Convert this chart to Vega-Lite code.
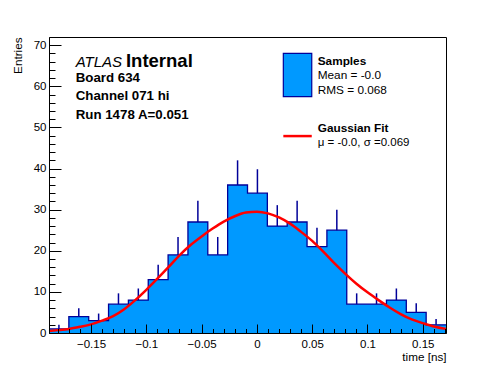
{
  "$schema": "https://vega.github.io/schema/vega-lite/v6.json",
  "width": 397,
  "height": 296,
  "autosize": "none",
  "padding": {"left": 49, "top": 37, "right": 50, "bottom": 39},
  "background": "white",
  "config": {"font": "Liberation Sans", "view": {"stroke": "black", "strokeWidth": 1}},
  "datasets": {
    "hist": [
      {"x": -0.188, "n": 1}, {"x": -0.17005, "n": 4}, {"x": -0.1521, "n": 3}, {"x": -0.13415, "n": 7},
      {"x": -0.1162, "n": 8}, {"x": -0.09825, "n": 13}, {"x": -0.0803, "n": 19}, {"x": -0.06235, "n": 27},
      {"x": -0.0444, "n": 19}, {"x": -0.02645, "n": 36}, {"x": -0.0085, "n": 34}, {"x": 0.00945, "n": 26},
      {"x": 0.0274, "n": 27}, {"x": 0.04535, "n": 21}, {"x": 0.0633, "n": 25}, {"x": 0.08125, "n": 7},
      {"x": 0.0992, "n": 7}, {"x": 0.11715, "n": 8}, {"x": 0.1351, "n": 5}, {"x": 0.15305, "n": 2},
      {"x": 0.171, "n": 2}
    ],
    "bins": [
      {"xc": -0.179025, "n": 1, "hi": 2}, {"xc": -0.161075, "n": 4, "hi": 6},
      {"xc": -0.143125, "n": 3, "hi": 4.732}, {"xc": -0.125175, "n": 7, "hi": 9.646},
      {"xc": -0.107225, "n": 8, "hi": 10.828}, {"xc": -0.089275, "n": 13, "hi": 16.606},
      {"xc": -0.071325, "n": 19, "hi": 23.359}, {"xc": -0.053375, "n": 27, "hi": 32.196},
      {"xc": -0.035425, "n": 19, "hi": 23.359}, {"xc": -0.017475, "n": 36, "hi": 42},
      {"xc": 0.000475, "n": 34, "hi": 39.831}, {"xc": 0.018425, "n": 26, "hi": 31.099},
      {"xc": 0.036375, "n": 27, "hi": 32.196}, {"xc": 0.054325, "n": 21, "hi": 25.583},
      {"xc": 0.072275, "n": 25, "hi": 30}, {"xc": 0.090225, "n": 7, "hi": 9.646},
      {"xc": 0.108175, "n": 7, "hi": 9.646}, {"xc": 0.126125, "n": 8, "hi": 10.828},
      {"xc": 0.144075, "n": 5, "hi": 7.236}, {"xc": 0.162025, "n": 2, "hi": 3.414}
    ],
    "curve": [
      {"x": -0.188, "v": 0.5}, {"x": -0.18, "v": 0.7}, {"x": -0.17, "v": 1.0}, {"x": -0.16, "v": 1.5},
      {"x": -0.15, "v": 2.1}, {"x": -0.14, "v": 3.0}, {"x": -0.13, "v": 4.1}, {"x": -0.12, "v": 5.8},
      {"x": -0.11, "v": 8.0}, {"x": -0.1, "v": 10.5}, {"x": -0.09, "v": 13.2}, {"x": -0.08, "v": 16.0},
      {"x": -0.07, "v": 18.9}, {"x": -0.06, "v": 21.4}, {"x": -0.05, "v": 23.5}, {"x": -0.04, "v": 25.4},
      {"x": -0.03, "v": 27.1}, {"x": -0.02, "v": 28.4}, {"x": -0.01, "v": 29.3}, {"x": 0, "v": 29.5},
      {"x": 0.01, "v": 29.1}, {"x": 0.02, "v": 28.1}, {"x": 0.03, "v": 26.6}, {"x": 0.04, "v": 24.6},
      {"x": 0.05, "v": 22.4}, {"x": 0.06, "v": 19.8}, {"x": 0.07, "v": 17.0}, {"x": 0.08, "v": 14.4},
      {"x": 0.09, "v": 12.0}, {"x": 0.1, "v": 9.9}, {"x": 0.11, "v": 8.0}, {"x": 0.12, "v": 6.2},
      {"x": 0.13, "v": 4.6}, {"x": 0.14, "v": 3.3}, {"x": 0.15, "v": 2.4}, {"x": 0.16, "v": 1.6},
      {"x": 0.171, "v": 1.0}
    ]
  },
  "layer": [
    {
      "layer": [
        {
          "data": {"name": "hist"},
          "mark": {"type": "area", "interpolate": "step-after", "color": "#0099ff"},
          "encoding": {
            "x": {
              "field": "x", "type": "quantitative",
              "scale": {"domain": [-0.188, 0.171], "nice": false, "zero": false},
              "axis": {
                "orient": "bottom", "values": [-0.15, -0.1, -0.05, 0, 0.05, 0.1, 0.15], "format": "~g",
                "tickSize": -9, "tickColor": "black", "labelPadding": 14, "labelFontSize": 11.5,
                "labelColor": "black", "labelFlush": false, "domainColor": "black", "grid": false, "zindex": 1,
                "title": "time [ns]", "titleAnchor": "end", "titleFontWeight": "normal", "titleFontSize": 11.7,
                "titleColor": "black", "titlePadding": 2
              }
            },
            "y": {
              "field": "n", "type": "quantitative",
              "scale": {"domain": [0, 72], "nice": false},
              "axis": {
                "orient": "left", "values": [0, 10, 20, 30, 40, 50, 60, 70],
                "tickSize": -12, "tickColor": "black", "labelPadding": 15, "labelFontSize": 11.5,
                "labelColor": "black", "labelFlush": false, "domainColor": "black", "grid": false, "zindex": 1,
                "title": "Entries", "titleAnchor": "end", "titleFontWeight": "normal", "titleFontSize": 11.7,
                "titleColor": "black", "titlePadding": 10
              }
            }
          }
        },
        {
          "data": {"name": "hist"},
          "mark": {"type": "line", "interpolate": "step-after", "color": "#000099", "strokeWidth": 1.3},
          "encoding": {
            "x": {"field": "x", "type": "quantitative"},
            "y": {"field": "n", "type": "quantitative"}
          }
        },
        {
          "data": {"name": "bins"},
          "mark": {"type": "rule", "color": "#000099", "strokeWidth": 1.5},
          "encoding": {
            "x": {"field": "xc", "type": "quantitative"},
            "y": {"field": "n", "type": "quantitative"},
            "y2": {"field": "hi"}
          }
        },
        {
          "data": {"values": [{}]},
          "mark": {"type": "text", "fontStyle": "italic", "fontSize": 15, "align": "left", "baseline": "alphabetic"},
          "encoding": {
            "x": {"datum": -0.1639, "type": "quantitative"},
            "y": {"datum": 64.8, "type": "quantitative"},
            "text": {"value": "ATLAS"}
          }
        },
        {
          "data": {"values": [{}]},
          "mark": {"type": "text", "fontWeight": "bold", "fontSize": 18.5, "align": "left", "baseline": "alphabetic"},
          "encoding": {
            "x": {"datum": -0.1184, "type": "quantitative"},
            "y": {"datum": 64.8, "type": "quantitative"},
            "text": {"value": "Internal"}
          }
        },
        {
          "data": {"values": [{}]},
          "mark": {"type": "text", "fontWeight": "bold", "fontSize": 13.3, "align": "left", "baseline": "alphabetic", "lineHeight": 18.7},
          "encoding": {
            "x": {"datum": -0.1639, "type": "quantitative"},
            "y": {"datum": 61.1, "type": "quantitative"},
            "text": {"value": ["Board 634", "Channel 071 hi", "Run 1478 A=0.051"]}
          }
        },
        {
          "data": {"values": [{}]},
          "mark": {"type": "rect", "color": "#0099ff", "stroke": "#000099", "strokeWidth": 1.2},
          "encoding": {
            "x": {"datum": 0.0239, "type": "quantitative"},
            "x2": {"datum": 0.0496},
            "y": {"datum": 68.0, "type": "quantitative"},
            "y2": {"datum": 57.5}
          }
        },
        {
          "data": {"values": [{}]},
          "mark": {"type": "text", "fontWeight": "bold", "fontSize": 11.8, "align": "left", "baseline": "alphabetic"},
          "encoding": {
            "x": {"datum": 0.055, "type": "quantitative"},
            "y": {"datum": 65.2, "type": "quantitative"},
            "text": {"value": "Samples"}
          }
        },
        {
          "data": {"values": [{}]},
          "mark": {"type": "text", "fontSize": 11.8, "align": "left", "baseline": "alphabetic", "lineHeight": 14.7},
          "encoding": {
            "x": {"datum": 0.055, "type": "quantitative"},
            "y": {"datum": 61.7, "type": "quantitative"},
            "text": {"value": ["Mean = -0.0", "RMS = 0.068"]}
          }
        },
        {
          "data": {"values": [{}]},
          "mark": {"type": "rule", "color": "#ff0000", "strokeWidth": 2.5},
          "encoding": {
            "x": {"datum": 0.0239, "type": "quantitative"},
            "x2": {"datum": 0.0496},
            "y": {"datum": 47.9, "type": "quantitative"}
          }
        },
        {
          "data": {"values": [{}]},
          "mark": {"type": "text", "fontWeight": "bold", "fontSize": 11.8, "align": "left", "baseline": "alphabetic"},
          "encoding": {
            "x": {"datum": 0.055, "type": "quantitative"},
            "y": {"datum": 48.8, "type": "quantitative"},
            "text": {"value": "Gaussian Fit"}
          }
        },
        {
          "data": {"values": [{}]},
          "mark": {"type": "text", "fontSize": 11.5, "align": "left", "baseline": "alphabetic"},
          "encoding": {
            "x": {"datum": 0.055, "type": "quantitative"},
            "y": {"datum": 45.45, "type": "quantitative"},
            "text": {"value": "μ = -0.0, σ =0.069"}
          }
        }
      ]
    },
    {
      "data": {"name": "curve"},
      "mark": {"type": "line", "interpolate": "monotone", "color": "#ff0000", "strokeWidth": 2.5},
      "encoding": {
        "x": {
          "field": "x", "type": "quantitative",
          "axis": {
            "orient": "bottom",
            "values": [-0.18, -0.17, -0.16, -0.14, -0.13, -0.12, -0.11, -0.09, -0.08, -0.07, -0.06, -0.04, -0.03, -0.02, -0.01, 0.01, 0.02, 0.03, 0.04, 0.06, 0.07, 0.08, 0.09, 0.11, 0.12, 0.13, 0.14, 0.16, 0.17],
            "tickSize": -4.5, "tickColor": "black", "labels": false, "domain": false, "grid": false, "title": null, "zindex": 1
          }
        },
        "y": {
          "field": "v", "type": "quantitative",
          "axis": {
            "orient": "left",
            "values": [2, 4, 6, 8, 12, 14, 16, 18, 22, 24, 26, 28, 32, 34, 36, 38, 42, 44, 46, 48, 52, 54, 56, 58, 62, 64, 66, 68],
            "tickSize": -6, "tickColor": "black", "labels": false, "domain": false, "grid": false, "title": null, "zindex": 1
          }
        }
      }
    }
  ],
  "resolve": {"axis": {"x": "independent", "y": "independent"}}
}
